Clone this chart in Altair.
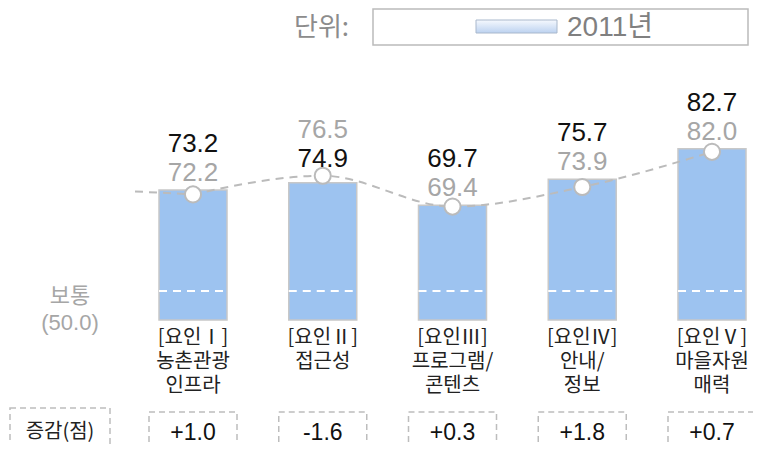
import altair as alt
import pandas as pd

# ---- data ----
categories = [
    "[요인Ⅰ]\n농촌관광\n인프라",
    "[요인Ⅱ]\n접근성",
    "[요인Ⅲ]\n프로그램/\n콘텐츠",
    "[요인Ⅳ]\n안내/\n정보",
    "[요인Ⅴ]\n마을자원\n매력",
]
bar_values = [73.2, 74.9, 69.7, 75.7, 82.7]      # bars (black labels)
prev_values = [72.2, 76.5, 69.4, 73.9, 82.0]     # line/circles (gray labels)
change_values = [1.0, -1.6, 0.3, 1.8, 0.7]       # 증감(점)
NORMAL = 50.0
BASE = 43.3
normal_label = "보통\n(50.0)"
change_title = "증감(점)"
unit_label = "단위:"
legend_label = "2011년"

FONT = "Liberation Sans, Noto Sans CJK KR, sans-serif"
KFONT = "Noto Sans CJK KR, Liberation Sans, sans-serif"
BAR = "#9DC3F0"
GRAY = "#A6A6A6"
BOXGRAY = "#BDBDBD"

df = pd.DataFrame({
    "cat": categories,
    "idx": list(range(len(categories))),
    "bar": bar_values,
    "prev": prev_values,
    "chg": [f"{v:+.1f}" for v in change_values],
})

xsc = alt.Scale(type="point", domain=categories, range=[185, 704], padding=0)
ysc = alt.Scale(domain=[BASE, 115.1], range=[312, 0])
X = alt.X("cat:N", scale=xsc, axis=None)

base = alt.Chart(df)

bars = base.mark_bar(size=68, fill=BAR, stroke="#C8C8C8", strokeWidth=1.5).encode(
    x=X, y=alt.Y("bar:Q", scale=ysc, axis=None), y2=alt.datum(BASE)
)

normal_dash = base.mark_rule(
    xOffset=-34, x2Offset=34, color="white", strokeWidth=2, strokeDash=[8, 6]
).encode(x=X, x2="cat:N", y=alt.Y(datum=NORMAL, scale=ysc))

line = base.mark_line(
    color="#BBBBBB", strokeWidth=2, strokeDash=[8, 6], interpolate="monotone"
).encode(x=X, y=alt.Y("prev:Q", scale=ysc), order="idx:Q")

lead = base.transform_filter("datum.idx == 0").mark_rule(
    color="#BBBBBB", strokeWidth=2, strokeDash=[8, 6], xOffset=-58, yOffset=-3
).encode(x=X, x2="cat:N", y=alt.Y("prev:Q", scale=ysc), y2="prev:Q")

points = base.mark_point(
    shape="circle", filled=True, fill="white", stroke="#BBBBBB", strokeWidth=2,
    size=260, opacity=1
).encode(x=X, y=alt.Y("prev:Q", scale=ysc))

lab = base.transform_calculate(
    hi="max(datum.bar, datum.prev)",
    top="datum.bar >= datum.prev ? datum.bar : datum.prev",
    bot="datum.bar >= datum.prev ? datum.prev : datum.bar",
    topc="datum.bar >= datum.prev ? '#111111' : '#A6A6A6'",
    botc="datum.bar >= datum.prev ? '#A6A6A6' : '#111111'",
)
top_lab = lab.mark_text(dy=-46, fontSize=26, font=FONT).encode(
    x=X, y=alt.Y("hi:Q", scale=ysc), text=alt.Text("top:Q", format=".1f"),
    color=alt.Color("topc:N", scale=None),
)
bot_lab = lab.mark_text(dy=-17, fontSize=26, font=FONT).encode(
    x=X, y=alt.Y("hi:Q", scale=ysc), text=alt.Text("bot:Q", format=".1f"),
    color=alt.Color("botc:N", scale=None),
)

cat_lab = base.mark_text(
    lineBreak="\n", baseline="top", fontSize=20, lineHeight=24, font=KFONT, color="#222222"
).encode(x=X, y=alt.value(320), text="cat:N")

chg_box = base.mark_rect(
    xOffset=-44, x2Offset=44, fill="white", fillOpacity=0, stroke=BOXGRAY,
    strokeWidth=1.5, strokeDash=[6, 4]
).encode(x=X, x2="cat:N", y=alt.value(404), y2=alt.value(446))

chg_txt = base.mark_text(fontSize=23, font=FONT, color="#111111").encode(
    x=X, y=alt.value(425), text="chg:N"
)

one = pd.DataFrame({"k": [0]})
title_box = alt.Chart(one).mark_rect(
    fill="white", fillOpacity=0, stroke=BOXGRAY, strokeWidth=1.5, strokeDash=[6, 4]
).encode(x=alt.value(2), x2=alt.value(102), y=alt.value(400), y2=alt.value(446))
title_txt = alt.Chart(one).mark_text(
    text=change_title, fontSize=20, font=KFONT, color="#222222"
).encode(x=alt.value(52), y=alt.value(424))

normal_txt = alt.Chart(one).mark_text(
    text=normal_label, lineBreak="\n", fontSize=22, lineHeight=27, font=FONT, color=GRAY
).encode(x=alt.value(62), y=alt.value(288))

unit_txt = alt.Chart(one).mark_text(
    text=unit_label, fontSize=26, font=KFONT, color="#8C8C8C", align="left"
).encode(x=alt.value(286), y=alt.value(20))
legend_box = alt.Chart(one).mark_rect(
    fill="white", stroke="#BBBBBB", strokeWidth=1.5
).encode(x=alt.value(365), x2=alt.value(740), y=alt.value(1), y2=alt.value(37))
legend_swatch = alt.Chart(one).mark_rect(
    fill={"gradient": "linear", "x1": 0, "y1": 0, "x2": 0, "y2": 1,
          "stops": [{"offset": 0, "color": "#F6F9FE"}, {"offset": 1, "color": "#BCD2F0"}]},
    stroke="#A9B8CC", strokeWidth=1,
).encode(x=alt.value(468), x2=alt.value(549), y=alt.value(12), y2=alt.value(25))
legend_txt = alt.Chart(one).mark_text(
    text=legend_label, fontSize=28, font=FONT, color="#808080", align="left"
).encode(x=alt.value(559), y=alt.value(20))

chart = alt.layer(
    bars, normal_dash, line, lead, points, top_lab, bot_lab, cat_lab,
    chg_box, chg_txt, title_box, title_txt, normal_txt,
    legend_box, legend_swatch, legend_txt, unit_txt,
).properties(
    width=745, height=436, autosize=alt.AutoSizeParams(type="none"), padding=0
).configure_view(stroke=None)

chart.save("out.html", embed_options={"renderer": "svg", "actions": False})
